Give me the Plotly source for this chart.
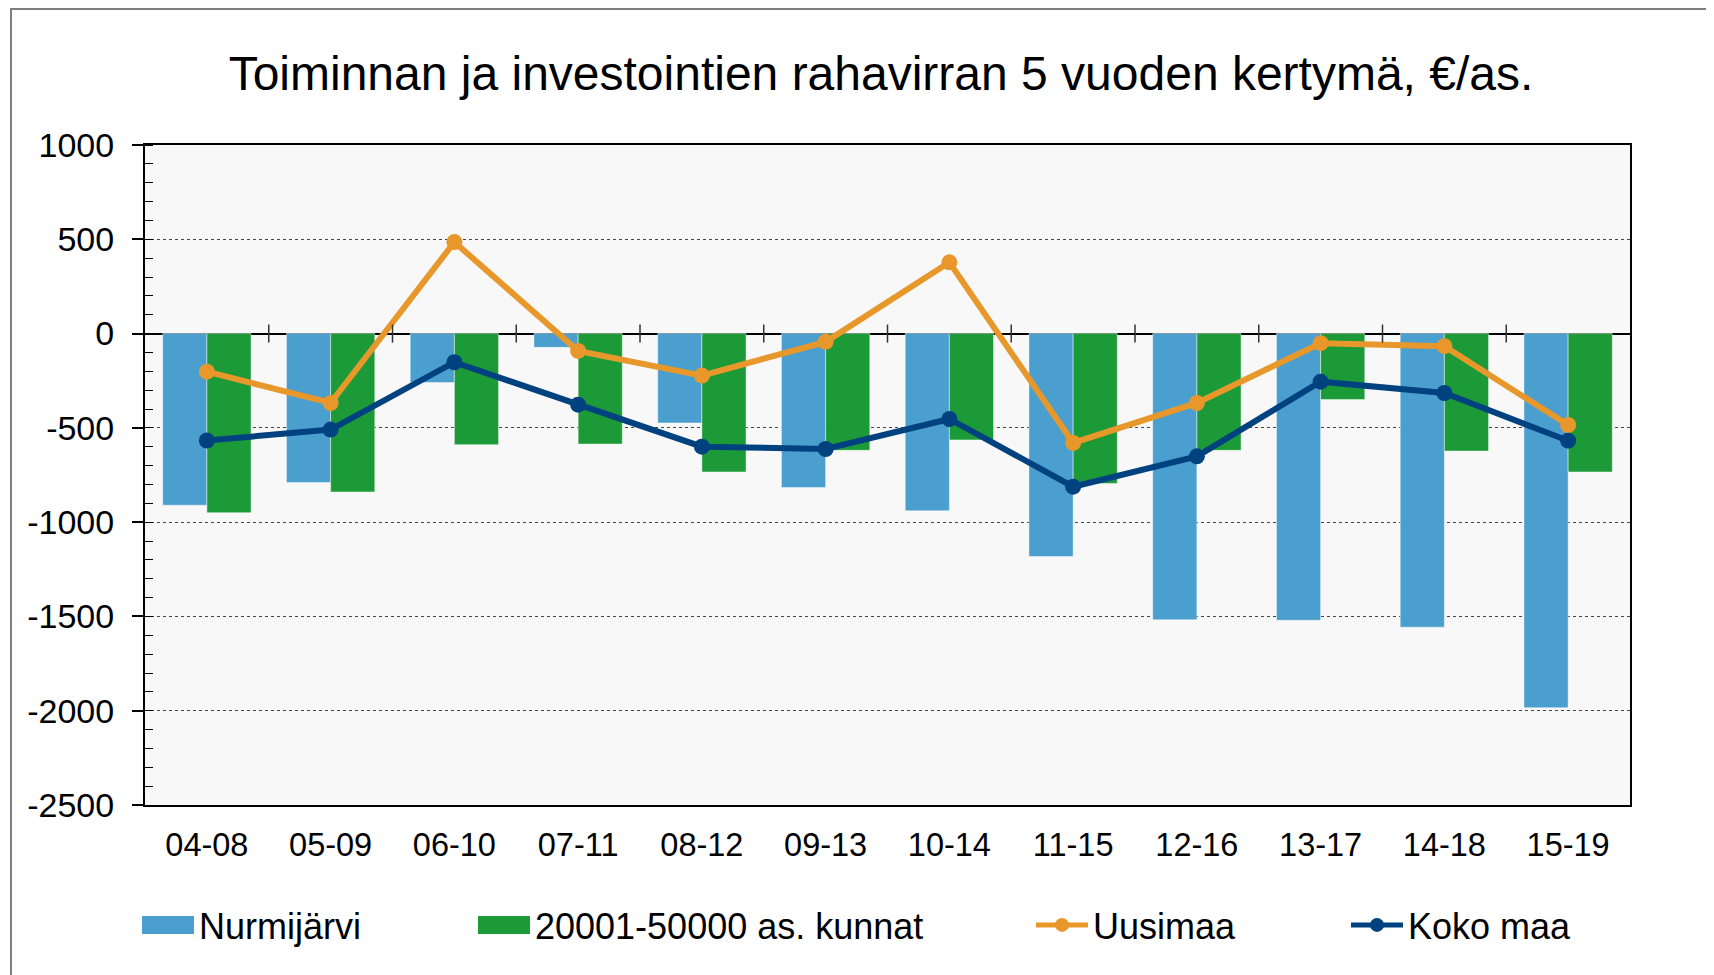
import plotly.graph_objects as go

categories = ["04-08", "05-09", "06-10", "07-11", "08-12", "09-13",
              "10-14", "11-15", "12-16", "13-17", "14-18", "15-19"]
nurmijarvi = [-910, -790, -260, -73, -474, -816, -940, -1182, -1518, -1520, -1557, -1984]
kunnat = [-950, -840, -589, -586, -734, -619, -564, -795, -619, -350, -623, -734]
uusimaa = [-202, -368, 485, -92, -223, -44, 378, -580, -368, -51, -67, -485]
koko_maa = [-567, -509, -152, -377, -600, -612, -453, -812, -651, -255, -315, -568]
y_ticks = [1000, 500, 0, -500, -1000, -1500, -2000, -2500]

names = ["Nurmijärvi", "20001-50000 as. kunnat", "Uusimaa", "Koko maa"]
C_BLUE, C_GREEN, C_ORANGE, C_NAVY = "#4A9FCE", "#1C9A38", "#E8972A", "#00427F"
FONT = "Liberation Sans, Arial, sans-serif"

# the page adds an 8px body margin; figure pixel coords = page coords - 8
OFF = 8
W, H = 1714 - OFF, 975 - OFF
L, R, T, B = 137, 84, 137, 170
PW, PH = W - L - R, H - T - B


def px_x(x_page):
    return (x_page - OFF - L) / PW


def px_y(y_page):
    return (H - B - (y_page - OFF)) / PH


fig = go.Figure()
fig.add_trace(go.Bar(x=categories, y=nurmijarvi, name=names[0], marker_color=C_BLUE,
                     marker_line=dict(color="rgba(255,255,255,0.45)", width=1), showlegend=False))
fig.add_trace(go.Bar(x=categories, y=kunnat, name=names[1], marker_color=C_GREEN,
                     marker_line=dict(color="rgba(255,255,255,0.45)", width=1), showlegend=False))
fig.add_trace(go.Scatter(x=categories, y=uusimaa, name=names[2], mode="lines+markers",
                         line=dict(color=C_ORANGE, width=6), marker=dict(size=16, color=C_ORANGE),
                         showlegend=False))
fig.add_trace(go.Scatter(x=categories, y=koko_maa, name=names[3], mode="lines+markers",
                         line=dict(color=C_NAVY, width=6), marker=dict(size=16, color=C_NAVY),
                         showlegend=False))

# legend entries, each in its own legend box (page x of the symbol start)
legend_x = [142, 478, 1036, 1351]
legend_yc = 925
fig.add_trace(go.Scatter(x=[None], y=[None], mode="lines", name=names[0],
                         line=dict(color=C_BLUE, width=5), legend="legend"))
fig.add_trace(go.Scatter(x=[None], y=[None], mode="lines", name=names[1],
                         line=dict(color=C_GREEN, width=5), legend="legend2"))
fig.add_trace(go.Scatter(x=[None], y=[None], mode="lines+markers", name=names[2],
                         line=dict(color=C_ORANGE, width=5), marker=dict(size=14, color=C_ORANGE),
                         legend="legend3"))
fig.add_trace(go.Scatter(x=[None], y=[None], mode="lines+markers", name=names[3],
                         line=dict(color=C_NAVY, width=5), marker=dict(size=14, color=C_NAVY),
                         legend="legend4"))

leg_common = dict(orientation="h", yanchor="middle", y=px_y(legend_yc), xanchor="left",
                  font=dict(family=FONT, size=36, color="#000"), itemwidth=52,
                  bgcolor="rgba(0,0,0,0)", borderwidth=0, tracegroupgap=0)
legends = {}
for i, key in enumerate(["legend", "legend2", "legend3", "legend4"]):
    legends[key] = dict(leg_common, x=px_x(legend_x[i] - 5))

shapes = []
# wide bar swatches for the two bar series
for xs, col in zip(legend_x[:2], [C_BLUE, C_GREEN]):
    shapes.append(dict(type="rect", xref="paper", yref="paper",
                       x0=px_x(xs), x1=px_x(xs + 52), y0=px_y(legend_yc - 9), y1=px_y(legend_yc + 9),
                       fillcolor=col, line=dict(width=0), layer="above"))
# boundary tick marks crossing the zero line
for i in range(len(categories) - 1):
    shapes.append(dict(type="line", xref="x", yref="y", x0=i + 0.5, x1=i + 0.5, y0=-48, y1=48,
                       line=dict(color="#333", width=1.5), layer="above"))
# outer chart frame (top and left edges visible)
shapes.append(dict(type="line", xref="paper", yref="paper", x0=px_x(10), x1=px_x(1720),
                   y0=px_y(9), y1=px_y(9), line=dict(color="#7F7F7F", width=2)))
shapes.append(dict(type="line", xref="paper", yref="paper", x0=px_x(11), x1=px_x(11),
                   y0=px_y(9), y1=px_y(990), line=dict(color="#7F7F7F", width=2)))

fig.update_layout(
    width=W, height=H,
    margin=dict(l=L, r=R, t=T, b=B),
    paper_bgcolor="white", plot_bgcolor="#F8F8F8",
    font=dict(family=FONT, color="#000"),
    title=dict(text="Toiminnan ja investointien rahavirran 5 vuoden kertymä, €/as.",
               font=dict(family=FONT, size=48, color="#000"),
               x=(881 - OFF) / W, xanchor="center", xref="container",
               y=1 - (73 - OFF) / H, yanchor="middle", yref="container"),
    barmode="group", bargap=0.286, bargroupgap=0,
    shapes=shapes,
    **legends,
)
fig.update_xaxes(type="category", showline=True, mirror=True, linecolor="#000", linewidth=2,
                 ticks="", showgrid=False, tickfont=dict(size=32.5),
                 ticklabelstandoff=10, range=[-0.5, len(categories) - 0.5])
fig.update_yaxes(range=[-2500, 1000], tickmode="array", tickvals=y_ticks,
                 ticktext=[str(v) for v in y_ticks],
                 showline=True, mirror=True, linecolor="#000", linewidth=2,
                 ticks="outside", ticklen=11, tickwidth=1.5, tickcolor="#000",
                 tickfont=dict(size=34), ticklabelstandoff=11,
                 showgrid=True, gridcolor="#444", griddash="dot", gridwidth=1,
                 zeroline=True, zerolinecolor="#000", zerolinewidth=1.5,
                 minor=dict(tickmode="linear", tick0=0, dtick=100, ticks="inside",
                            ticklen=8, tickwidth=1, tickcolor="#000", showgrid=False))

fig.write_html("out.html")
